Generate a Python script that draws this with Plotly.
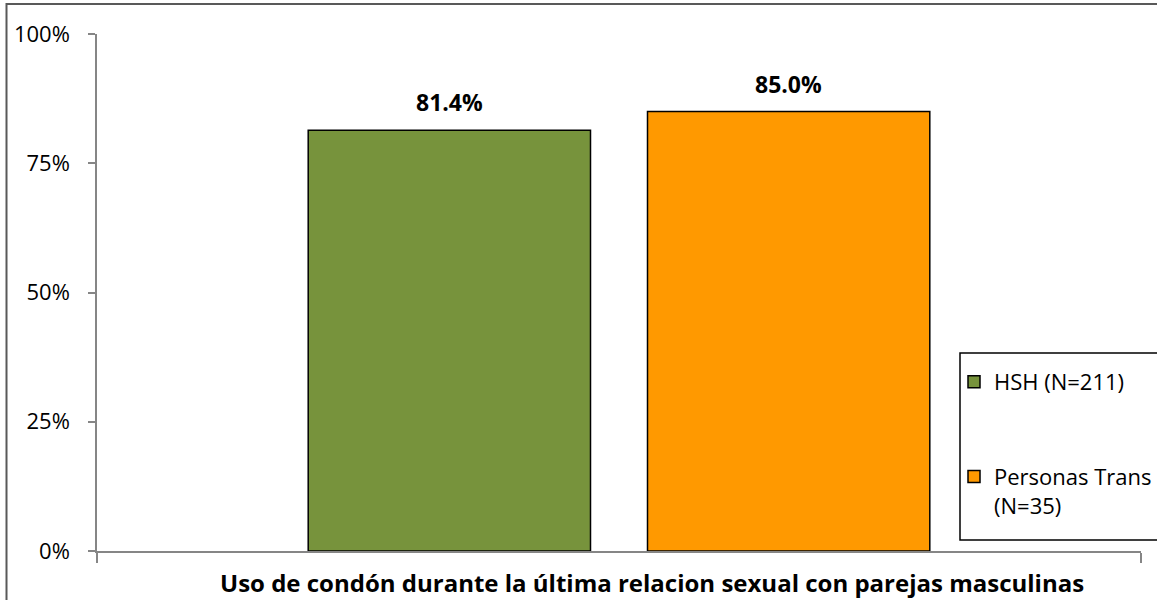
import plotly.graph_objects as go

# ---- data ----
category = ["Uso de condón durante la última relacion sexual con parejas masculinas"]
series_names = ["HSH (N=211)", "Personas Trans<br>(N=35)"]
values = [81.4, 85.0]
value_labels = ["81.4%", "85.0%"]
colors = ["#77933C", "#FF9900"]
y_tickvals = [0, 25, 50, 75, 100]
y_ticktext = ["0%", "25%", "50%", "75%", "100%"]
x_title = category[0]

# ---- layout params ----
W, H = 1157, 600
ML, MR, MT, MB = 97, 16, 34, 49
plot_w = W - ML - MR
plot_h = H - MT - MB
BARGAP = 0.35
BARGROUPGAP = 0.168
FONT = "Open Sans"


def px_x(px):
    return (px - ML) / plot_w


def px_y(py):
    return ((H - MB) - py) / plot_h


fig = go.Figure()
for i, (name, v, c) in enumerate(zip(series_names, values, colors)):
    fig.add_trace(go.Bar(
        x=["c"], y=[v], name=name, legendgroup=f"g{i}",
        marker=dict(color=c, line=dict(color="black", width=1.5)),
        hoverinfo="skip",
    ))

# value labels above bars
n = len(values)
slot = plot_w * (1 - BARGAP) / n
for i, (v, t) in enumerate(zip(values, value_labels)):
    fig.add_annotation(
        x="c", y=v, xref="x", yref="y", text=f"<b>{t}</b>", showarrow=False,
        xshift=(i - (n - 1) / 2) * slot, yshift=10, yanchor="bottom",
        font=dict(family=FONT, size=23, color="black"),
    )

# x-axis title (category label)
fig.add_annotation(
    x=px_x(651.5), y=px_y(582), xref="paper", yref="paper",
    text=f"<b>{x_title}</b>", showarrow=False, yanchor="middle", xanchor="center",
    font=dict(family=FONT, size=24, color="black"),
)

# outer chart border
fig.add_shape(
    type="rect", xref="paper", yref="paper",
    x0=px_x(6.5), x1=px_x(W + 10), y0=px_y(H + 10), y1=px_y(4),
    line=dict(color="#595959", width=2), fillcolor="rgba(0,0,0,0)", layer="below",
)
# legend box
fig.add_shape(
    type="rect", xref="paper", yref="paper",
    x0=px_x(960), x1=px_x(W + 10), y0=px_y(540), y1=px_y(353),
    line=dict(color="black", width=1.5), fillcolor="white", layer="above",
)

fig.update_layout(
    width=W, height=H,
    margin=dict(l=ML, r=MR, t=MT, b=MB, autoexpand=False),
    paper_bgcolor="white", plot_bgcolor="white",
    barmode="group", bargap=BARGAP, bargroupgap=BARGROUPGAP,
    font=dict(family=FONT, color="black"),
    legend=dict(
        x=px_x(954), xanchor="left",
        y=px_y(361), yanchor="top",
        borderwidth=0, bgcolor="rgba(0,0,0,0)",
        font=dict(family=FONT, size=22, color="black"),
        tracegroupgap=63, traceorder="grouped", valign="top",
    ),
    showlegend=True,
)
fig.update_xaxes(
    showline=True, linecolor="#868686", linewidth=1.5,
    ticks="outside", tickson="boundaries", ticklen=10, tickcolor="#868686", tickwidth=1.5,
    showticklabels=False, showgrid=False, zeroline=False, fixedrange=True,
)
fig.update_yaxes(
    range=[0, 100], tickvals=y_tickvals, ticktext=y_ticktext,
    showline=True, linecolor="#868686", linewidth=1.5,
    ticks="outside", ticklen=7, tickcolor="#868686", tickwidth=1.5,
    ticklabelstandoff=14,
    tickfont=dict(family=FONT, size=22, color="black"),
    showgrid=False, zeroline=False, fixedrange=True,
)

fig.write_html("out.html")
